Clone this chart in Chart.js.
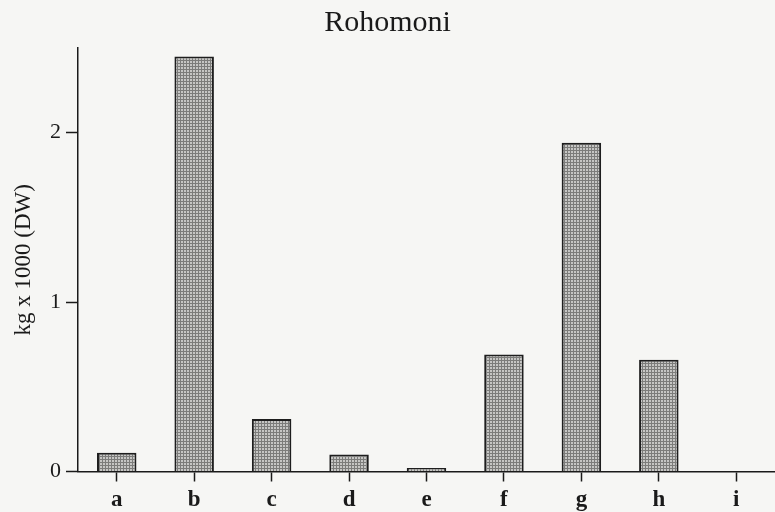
<!DOCTYPE html>
<html>
<head>
<meta charset="utf-8">
<script src="https://cdn.jsdelivr.net/npm/chart.js@4/dist/chart.umd.min.js"></script>
<style>
  html, body { margin: 0; padding: 0; background: #f6f6f4; overflow: hidden; }
  #wrap { width: 775px; height: 512px; }
</style>
</head>
<body>
<div id="wrap"><canvas id="chart" width="775" height="512"></canvas></div>
<script>
// Standing crop per site, kg x 1000 dry weight
const categories = ['a', 'b', 'c', 'd', 'e', 'f', 'g', 'h', 'i'];
const biomass = [0.11, 2.45, 0.31, 0.10, 0.02, 0.69, 1.94, 0.66, 0];
const yTicks = [0, 1, 2];
const yMax = 2.5;

// Fine cross-hatched grey fill for the bars
function hatchPattern() {
  const c = document.createElement('canvas');
  c.width = 3; c.height = 3;
  const g = c.getContext('2d');
  g.fillStyle = '#c6c6c4';
  g.fillRect(0, 0, 3, 3);
  g.fillStyle = '#7c7c7a';
  g.fillRect(0, 0, 3, 1);
  g.fillRect(0, 0, 1, 3);
  return g.createPattern(c, 'repeat');
}

const serif = "'Liberation Serif', 'DejaVu Serif', serif";
const ink = '#1a1a1a';

new Chart(document.getElementById('chart'), {
  type: 'bar',
  data: {
    labels: categories,
    datasets: [{
      data: biomass,
      backgroundColor: hatchPattern(),
      borderColor: '#1e1e1e',
      borderWidth: 2,
      borderSkipped: 'bottom',
      barPercentage: 0.51,
      categoryPercentage: 1
    }]
  },
  options: {
    responsive: false,
    animation: false,
    layout: { padding: { left: 0, right: 0, top: 0, bottom: 0 } },
    plugins: {
      legend: { display: false },
      tooltip: { enabled: false },
      title: {
        display: true,
        text: 'Rohomoni',
        color: ink,
        font: { family: serif, size: 30, weight: 'normal' },
        padding: { top: 5, bottom: 7 }
      }
    },
    scales: {
      x: {
        offset: true,
        afterFit: (scale) => { scale.height = 40.5; },
        grid: {
          offset: false,
          drawOnChartArea: false,
          drawTicks: true,
          tickLength: 10,
          tickWidth: 1.5,
          tickColor: ink
        },
        border: { display: true, color: ink, width: 1.5 },
        ticks: {
          color: ink,
          padding: 5,
          font: { family: serif, size: 23, weight: 'bold' }
        }
      },
      y: {
        min: 0,
        max: yMax,
        afterBuildTicks: (scale) => { scale.ticks = yTicks.map(v => ({ value: v })); },
        afterFit: (scale) => { scale.width = 78; },
        grid: {
          drawOnChartArea: false,
          drawTicks: true,
          tickLength: 12,
          tickWidth: 1.5,
          tickColor: ink
        },
        border: { display: true, color: ink, width: 1.5 },
        ticks: {
          color: ink,
          padding: 5,
          font: { family: serif, size: 22 }
        },
        title: {
          display: true,
          text: 'kg x 1000 (DW)',
          color: ink,
          font: { family: serif, size: 23 },
          padding: { top: 10, bottom: 0 }
        }
      }
    }
  }
});
</script>
</body>
</html>
